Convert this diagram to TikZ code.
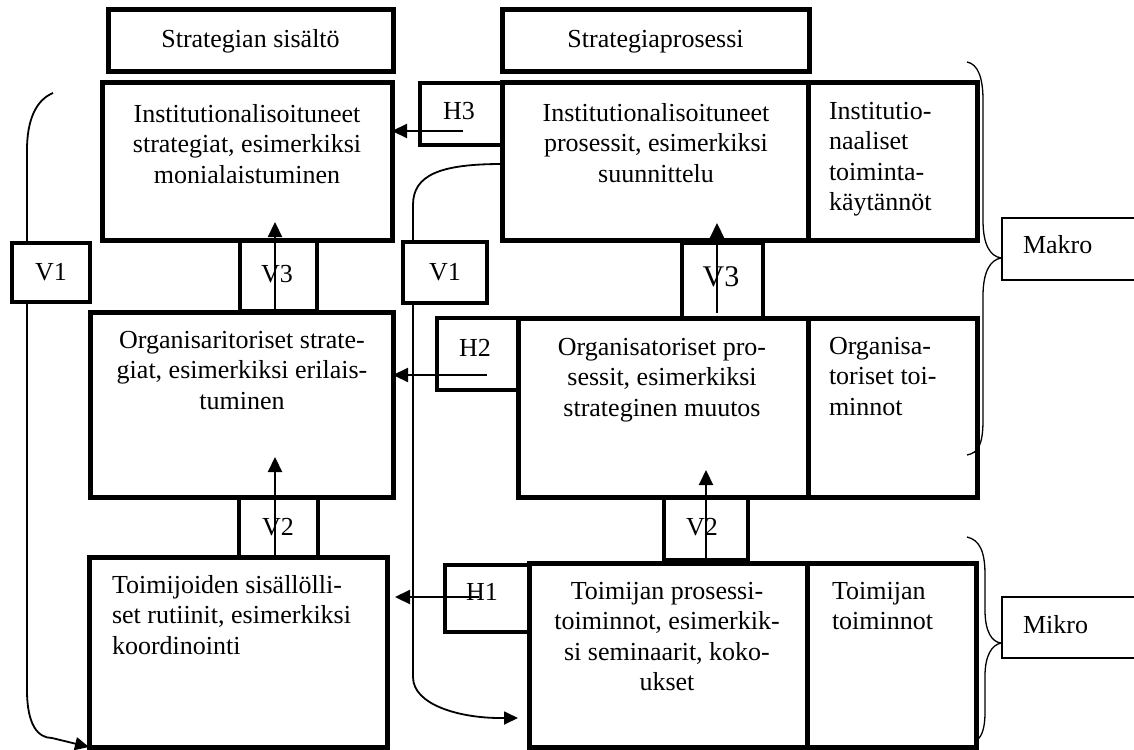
\documentclass[tikz,border=0pt]{standalone}
\usepackage{fontspec}
\setmainfont{Liberation Serif}
\usetikzlibrary{arrows.meta,calc}
\begin{document}
\begin{tikzpicture}[x=1pt,y=-1pt,
  bx/.style={draw, line width=5pt, rectangle, inner sep=0pt, outer sep=0pt},
  lbx/.style={draw, line width=4.5pt, rectangle, inner sep=0pt, outer sep=0pt},
  thinbx/.style={draw, line width=1.4pt, rectangle, inner sep=0pt, outer sep=0pt},
  txt/.style={inner sep=0pt, outer sep=0pt, font=\fontsize{26}{30.5}\selectfont},
  bigtxt/.style={inner sep=0pt, outer sep=0pt, font=\fontsize{30}{34}\selectfont},
  arr/.style={line width=2.2pt, -{Triangle[length=15pt,width=14pt]}},
  crv/.style={line width=1.8pt},
  crvarr/.style={line width=1.8pt, -{Triangle[length=14pt,width=13pt]}},
  brc/.style={line width=1.3pt}]
\useasboundingbox (0,0) rectangle (1134,749);

% header boxes
\node[bx, minimum width=285pt, minimum height=62pt] (hd1) at (250.5,41) {};
\node[bx, minimum width=307pt, minimum height=62pt] (hd2) at (655.5,41) {};

% main boxes
\node[bx, minimum width=290pt, minimum height=157pt] (A) at (247,161.5) {};
\node[bx, minimum width=306pt, minimum height=157pt] (D) at (655,161.5) {};
\node[bx, minimum width=169pt, minimum height=157pt] (D2) at (892.5,161.5) {};
\node[bx, minimum width=303pt, minimum height=185pt] (B) at (241.5,404.5) {};
\node[bx, minimum width=290pt, minimum height=179pt] (F) at (663,407.5) {};
\node[bx, minimum width=169pt, minimum height=179pt] (F2) at (892.5,407.5) {};
\node[bx, minimum width=298pt, minimum height=190pt] (C) at (238,652) {};
\node[bx, minimum width=278pt, minimum height=184pt] (E) at (668,655) {};
\node[bx, minimum width=169pt, minimum height=184pt] (E2) at (891.5,655) {};

% label boxes
\node[lbx, minimum width=82pt, minimum height=62pt] (h3) at (461,114) {};
\node[lbx, minimum width=81pt, minimum height=72pt] (h2) at (477.5,354) {};
\node[lbx, minimum width=84pt, minimum height=67pt] (h1) at (487,598.5) {};
\node[lbx, minimum width=78pt, minimum height=59pt] (v1l) at (51,272.5) {};
\node[lbx, minimum width=77pt, minimum height=71pt] (v3l) at (278.5,275.5) {};
\node[lbx, minimum width=84pt, minimum height=61pt] (v1m) at (445,272.5) {};
\node[lbx, minimum width=81pt, minimum height=75pt] (v3r) at (722.5,280.5) {};
\node[lbx, minimum width=79pt, minimum height=60pt] (v2l) at (278.5,527) {};
\node[lbx, minimum width=84pt, minimum height=62pt] (v2r) at (706,529) {};

% level boxes
\node[thinbx, minimum width=140pt, minimum height=62pt] (makro) at (1072,249) {};
\node[thinbx, minimum width=140pt, minimum height=61pt] (mikro) at (1072,627.5) {};

% texts
\node[txt, anchor=base] (thd1) at (250.5,48) {Strategian sisältö};
\node[txt, anchor=base] (thd2) at (655.5,48) {Strategiaprosessi};
\node[txt, anchor=north, align=center] (tA) at (247,104) {Institutionalisoituneet\\strategiat, esimerkiksi\\monialaistuminen};
\node[txt, anchor=north, align=center] (tD) at (656,103) {Institutionalisoituneet\\prosessit, esimerkiksi\\suunnittelu};
\node[txt, anchor=north west, align=left] (tD2) at (829,102) {Institutio-\\naaliset\\toiminta-\\käytännöt};
\node[txt, anchor=north, align=center] (tB) at (242,331) {Organisaritoriset strate-\\giat, esimerkiksi erilais-\\tuminen};
\node[txt, anchor=north, align=center] (tF) at (662,338) {Organisatoriset pro-\\sessit, esimerkiksi\\strateginen muutos};
\node[txt, anchor=north west, align=left] (tF2) at (829,337) {Organisa-\\toriset toi-\\minnot};
\node[txt, anchor=north west, align=left] (tC) at (112,575) {Toimijoiden sisällölli-\\set rutiinit, esimerkiksi\\koordinointi};
\node[txt, anchor=north, align=center] (tE) at (667,582) {Toimijan prosessi-\\toiminnot, esimerkik-\\si seminaarit, koko-\\ukset};
\node[txt, anchor=north west, align=left] (tE2) at (832,582) {Toimijan\\toiminnot};

\node[txt, anchor=base] (th3) at (459,120) {H3};
\node[txt, anchor=base] (th2) at (475,356) {H2};
\node[txt, anchor=base] (th1) at (482,600) {H1};
\node[txt, anchor=base] (tv1l) at (51,280) {V1};
\node[txt, anchor=base] (tv3l) at (277,282) {V3};
\node[txt, anchor=base] (tv1m) at (445,280) {V1};
\node[bigtxt, anchor=base] (tv3r) at (721,286) {V3};
\node[txt, anchor=base] (tv2l) at (278,535) {V2};
\node[txt, anchor=base] (tv2r) at (702,535) {V2};
\node[txt, anchor=base west] (tmakro) at (1023,253) {Makro};
\node[txt, anchor=base west] (tmikro) at (1023,633) {Mikro};

% horizontal arrows
\coordinate (h3s) at (463,131);
\coordinate (h2s) at (487,375);
\coordinate (h1s) at (479,597);
\draw[arr] (h3s) -- (h3s -| A.east);
\draw[arr] (h2s) -- (h2s -| B.east);
\draw[arr] (h1s) -- ($(h1s -| C.east)+(8,0)$);

% vertical arrows
\coordinate (v3la) at (275,222);
\coordinate (v2la) at (275,457);
\coordinate (v3ra) at (717,223);
\coordinate (v2ra) at (706,470);
\draw[arr] (v3la |- B.north) -- (v3la);
\draw[arr] (v2la |- C.north) -- (v2la);
\draw[arr] ($(v3ra |- F.north)+(0,-5)$) -- (v3ra);
\draw[arr] (v2ra |- E.north) -- (v2ra);

% left V1 curve
\coordinate (lc) at (53,93);
\draw[crv] (lc) .. controls (36,100) and (27,120) .. (27,150) -- ([xshift=-24pt]v1l.north);
\draw[crvarr] ([xshift=-24pt]v1l.south) -- (27,690) .. controls (27,725) and (38,738) .. (52,738) -- (C.south west);

% middle V1 curve
\coordinate (me) at (518,718);
\draw[crv] ([yshift=-2.5pt]D.west) .. controls (440,164) and (413,175) .. (413,205) -- ([xshift=-32pt]v1m.north);
\draw[crvarr] ([xshift=-32pt]v1m.south) -- (413,677) .. controls (413,705) and (460,718) .. (500,718) -- (me);

% braces
\coordinate (mkt) at (1001,258);
\coordinate (mit) at (1001,643);
\draw[brc] (967,62) .. controls (978,64) and (983,78) .. (983,100) -- (983,220)
  .. controls (983,245) and (990,256) .. (mkt)
  .. controls (990,260) and (983,272) .. (983,296) -- (983,420)
  .. controls (983,445) and (978,453) .. (967,455);
\draw[brc] (967,537) .. controls (980,540) and (985,552) .. (985,575) -- (985,610)
  .. controls (985,632) and (992,642) .. (mit)
  .. controls (992,645) and (985,655) .. (985,676) -- (985,712)
  .. controls (985,728) and (982,736) .. (977,740);
\end{tikzpicture}
\end{document}
